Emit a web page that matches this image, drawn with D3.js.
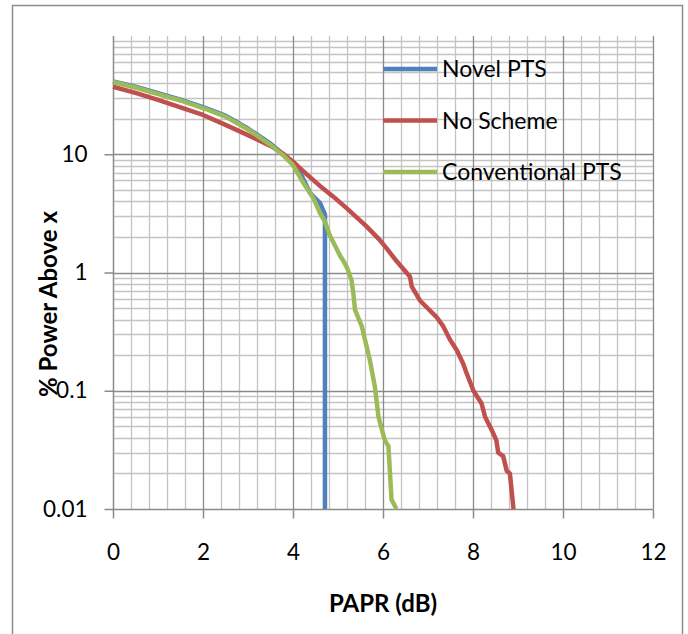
<!DOCTYPE html>
<html>
<head>
<meta charset="utf-8">
<script src="https://cdn.jsdelivr.net/npm/d3@7"></script>
<style>
  body { margin: 0; background: #fff; }
  svg text { font-family: "Lato", "Open Sans", sans-serif; }
</style>
</head>
<body>
<div id="chart"></div>
<script>
// series (x = PAPR dB, y = % power above x)
const novelX = [0, 0.5, 1, 1.5, 2, 2.5, 3, 3.5, 3.8, 4, 4.2, 4.38, 4.6, 4.71, 4.71];
const novelY = [41.3, 37.2, 32.8, 28.9, 25.0, 21.2, 16.5, 12.3, 9.9, 8.3, 6.5, 4.7, 3.87, 3.1, 0.01];

const noSchemeX = [0, 0.5, 1, 1.5, 2, 2.5, 3, 3.5, 3.8, 4, 4.3, 4.6, 4.89, 5.19, 5.64, 5.93, 6.08, 6.3, 6.6, 6.64, 6.82, 7.19, 7.34, 7.49, 7.64, 7.78, 7.86, 8.01, 8.19, 8.27, 8.41, 8.52, 8.56, 8.67, 8.75, 8.82, 8.9];
const noSchemeY = [37.2, 33.0, 28.8, 24.9, 21.5, 17.7, 14.5, 11.75, 9.96, 8.65, 6.8, 5.4, 4.4, 3.5, 2.44, 1.88, 1.6, 1.25, 0.92, 0.76, 0.58, 0.42, 0.35, 0.27, 0.22, 0.17, 0.14, 0.10, 0.078, 0.060, 0.047, 0.038, 0.030, 0.028, 0.021, 0.020, 0.01];

const convX = [0, 0.5, 1, 1.5, 2, 2.5, 3, 3.5, 3.8, 4, 4.2, 4.45, 4.6, 4.71, 4.82, 4.93, 5.04, 5.12, 5.2, 5.3, 5.34, 5.38, 5.53, 5.6, 5.71, 5.82, 5.9, 6.04, 6.12, 6.19, 6.3];
const convY = [40.8, 36.7, 32.3, 28.5, 24.6, 20.8, 16.2, 12.0, 9.66, 8.1, 5.97, 4.27, 3.18, 2.7, 2.05, 1.7, 1.4, 1.25, 1.1, 0.86, 0.667, 0.48, 0.35, 0.27, 0.18, 0.108, 0.06, 0.038, 0.034, 0.012, 0.01];

const seriesNames = ["Novel PTS", "No Scheme", "Conventional PTS"];
const seriesColors = ["#4F81BD", "#C0504D", "#9BBB59"];

const xTicks = [0, 2, 4, 6, 8, 10, 12];
const yTicks = [0.01, 0.1, 1, 10];
const yTickLabels = ["0.01", "0.1", "1", "10"];

const width = 688, height = 634;

const svg = d3.select("#chart")
    .append("svg")
    .attr("width", width)
    .attr("height", height);

// outer chart border
svg.append("rect")
    .attr("x", 12.5).attr("y", 5.5)
    .attr("width", 670).attr("height", 660)
    .attr("fill", "#fff")
    .attr("stroke", "#8c8c8c")
    .attr("stroke-width", 1.5);

const x = d3.scaleLinear().domain([0, 12]).range([113, 653]);
const y = d3.scaleLog().domain([0.01, 100]).range([509, 36]);

const grid = svg.append("g");

// minor verticals every 0.4
const minorX = d3.range(0, 30 + 1).map(i => +(i * 0.4).toFixed(2)).filter(v => Math.abs(v / 2 - Math.round(v / 2)) > 1e-6);
grid.selectAll("line.mx")
    .data(minorX)
    .join("line")
    .attr("x1", d => Math.round(x(d)) + 0.5).attr("x2", d => Math.round(x(d)) + 0.5)
    .attr("y1", y(100)).attr("y2", y(0.01))
    .attr("stroke", "#c4c4c4").attr("stroke-width", 1.3);

// minor horizontals 2..9 per decade
const minorY = [];
[0.01, 0.1, 1, 10].forEach(dec => d3.range(2, 10).forEach(k => minorY.push(k * dec)));
grid.selectAll("line.my")
    .data(minorY)
    .join("line")
    .attr("x1", x(0)).attr("x2", x(12))
    .attr("y1", d => Math.round(y(d)) + 0.5).attr("y2", d => Math.round(y(d)) + 0.5)
    .attr("stroke", "#c4c4c4").attr("stroke-width", 1.3);

// major gridlines
grid.selectAll("line.Mx")
    .data(xTicks.slice(1))
    .join("line")
    .attr("x1", d => Math.round(x(d)) + 0.5).attr("x2", d => Math.round(x(d)) + 0.5)
    .attr("y1", y(100)).attr("y2", y(0.01))
    .attr("stroke", "#8a8a8a").attr("stroke-width", 1.3);

grid.selectAll("line.My")
    .data(yTicks.slice(1))
    .join("line")
    .attr("x1", x(0)).attr("x2", x(12))
    .attr("y1", d => Math.round(y(d)) + 0.5).attr("y2", d => Math.round(y(d)) + 0.5)
    .attr("stroke", "#8a8a8a").attr("stroke-width", 1.3);

// axes
const xAxis = svg.append("g")
    .attr("transform", `translate(0, ${Math.round(y(0.01)) + 0.5})`)
    .call(d3.axisBottom(x).tickValues(xTicks).tickSize(9).tickPadding(26).tickFormat(d3.format("d")));

const yAxis = svg.append("g")
    .attr("transform", `translate(${Math.round(x(0)) + 0.5}, 0)`)
    .call(d3.axisLeft(y).tickValues(yTicks).tickSize(9).tickPadding(17).tickFormat((d, i) => yTickLabels[i]));

[xAxis, yAxis].forEach(a => {
    a.select(".domain").attr("stroke", "#8a8a8a").attr("stroke-width", 1.5);
    a.selectAll(".tick line").attr("stroke", "#8a8a8a").attr("stroke-width", 1.5);
    a.selectAll(".tick text").attr("font-size", 22.5).attr("fill", "#000")
        .style("font-family", "Lato, sans-serif");
});
yAxis.select(".domain").attr("d", `M0,${y(100)}V${Math.round(y(0.01)) + 0.5}`);
xAxis.select(".domain").attr("d", `M${x(0) - 0.5},0H${x(12) + 0.5}`);

// series
const line = d3.line().x(d => x(d[0])).y(d => y(d[1]));
const seriesData = [
    d3.zip(novelX, novelY),
    d3.zip(noSchemeX, noSchemeY),
    d3.zip(convX, convY)
];

svg.append("g")
    .selectAll("path")
    .data(seriesData)
    .join("path")
    .attr("d", line)
    .attr("fill", "none")
    .attr("stroke", (d, i) => seriesColors[i])
    .attr("stroke-width", 4.5)
    .attr("stroke-linejoin", "round");

// legend
const legend = svg.append("g")
    .selectAll("g")
    .data(seriesNames)
    .join("g")
    .attr("transform", (d, i) => `translate(383, ${69 + i * 51.5})`);

legend.append("line")
    .attr("x1", 0).attr("x2", 54)
    .attr("stroke", (d, i) => seriesColors[i])
    .attr("stroke-width", 4.5);

legend.append("text")
    .attr("x", 59)
    .attr("dy", "0.36em")
    .attr("font-size", 23)
    .text(d => d);

// axis titles
svg.append("text")
    .attr("x", 383).attr("y", 612)
    .attr("text-anchor", "middle")
    .attr("font-size", 24)
    .attr("font-weight", "bold")
    .text("PAPR (dB)");

svg.append("text")
    .attr("transform", "translate(57, 304) rotate(-90)")
    .attr("text-anchor", "middle")
    .attr("font-size", 24)
    .attr("font-weight", "bold")
    .text("% Power Above x");
</script>
</body>
</html>
